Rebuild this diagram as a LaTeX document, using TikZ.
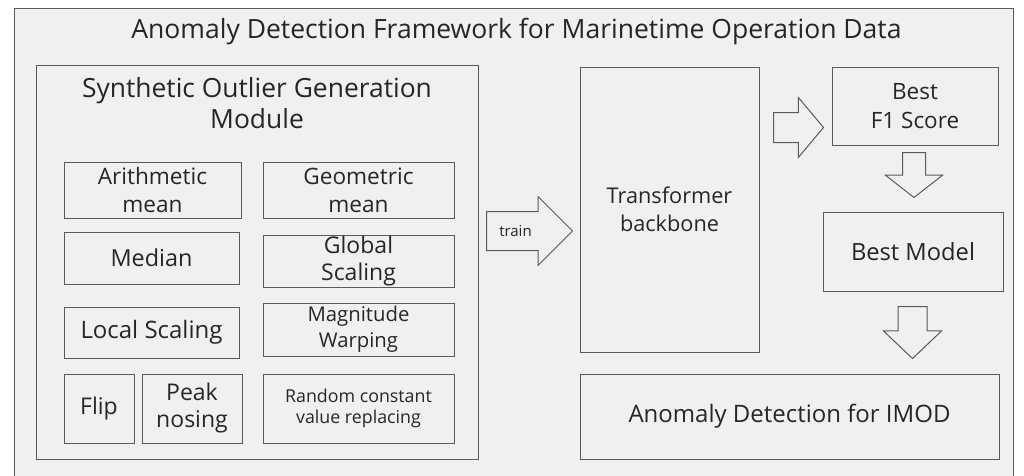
\documentclass[tikz,border=0pt]{standalone}
\usepackage{fontspec}
\setmainfont{Open Sans}
\usetikzlibrary{shapes.arrows}
\definecolor{framefill}{HTML}{F0F0F0}
\definecolor{linegray}{HTML}{5A5A5A}
\definecolor{textgray}{HTML}{262626}
\newcommand{\fsz}[2]{\fontsize{#1}{#2}\selectfont}
\tikzset{
	box/.style={draw=linegray, line width=1pt, inner sep=0pt, align=center, text=textgray},
	blockarrow/.style={single arrow, draw=linegray, line width=1pt, inner sep=0pt, anchor=tail},
}
\begin{document}
\begin{tikzpicture}[x=1pt,y=-1pt]
		\useasboundingbox (0,0) rectangle (1024,475);
		\fill[white] (0,0) rectangle (1024,475);
		\node[box, fill=framefill, minimum width=999, minimum height=482] (frame) at (513.5,249) {};
		\node[text=textgray, anchor=base, font=\fsz{26.5}{31}] (title) at (516.5,38) {Anomaly Detection Framework for Marinetime Operation Data};
		\begin{scope}
		\node[box, minimum width=442, minimum height=394] (module) at (257,262) {};
		\node[text=textgray, align=center, font=\fsz{26.4}{31}] (moduletitle) at (257,103) {Synthetic Outlier Generation\\Module};
		\node[box, font=\fsz{22.6}{28}, minimum width=177, minimum height=56] (arith) at (152.5,190) {Arithmetic\\mean};
		\node[box, font=\fsz{22.6}{28}, minimum width=191, minimum height=56] (geo) at (358.5,190) {Geometric\\mean};
		\node[box, font=\fsz{23.4}{28}, minimum width=175, minimum height=52] (median) at (151.5,258) {Median};
		\node[box, font=\fsz{23}{27}, minimum width=191, minimum height=52] (global) at (358.5,261) {Global\\Scaling};
		\node[box, font=\fsz{24}{28}, minimum width=175, minimum height=51] (local) at (151.5,332.5) {Local Scaling};
		\node[box, font=\fsz{20.3}{26}, minimum width=191, minimum height=53] (magnitude) at (358.5,329.5) {Magnitude\\Warping};
		\node[box, font=\fsz{23}{28}, minimum width=70, minimum height=69] (flip) at (99,408.5) {Flip};
		\node[box, font=\fsz{23}{27}, minimum width=100, minimum height=69] (peak) at (192,408.5) {Peak\\nosing};
		\node[box, font=\fsz{17.8}{21}, minimum width=191, minimum height=69] (random) at (358.5,408.5) {Random constant\\value replacing};
		\end{scope}
		\node[blockarrow, inner ysep=19pt, minimum height=86, single arrow head extend=15, single arrow tip angle=90] (trainarrow) at (486,231) {};
		\node[text=textgray, font=\fsz{15}{18}] (trainlabel) at ([xshift=29.5pt]trainarrow.tail) {train};
		\node[box, font=\fsz{21.7}{28}, minimum width=179, minimum height=285] (backbone) at (669.5,209.5) {Transformer\\backbone};
		\node[blockarrow, inner ysep=14.5pt, minimum height=50, single arrow head extend=15, single arrow tip angle=100] (f1arrow) at (773,127.5) {};
		\node[box, font=\fsz{22.5}{29}, minimum width=166, minimum height=78] (f1) at (915,106) {Best\\F1 Score};
		\node[blockarrow, shape border rotate=270, inner xsep=11pt, minimum height=45, single arrow head extend=17, single arrow tip angle=104] (down1) at (914,152) {};
		\node[box, font=\fsz{23.7}{28}, minimum width=180, minimum height=79] (model) at (913,251.5) {Best Model};
		\node[blockarrow, shape border rotate=270, inner xsep=14pt, minimum height=52, single arrow head extend=14.5, single arrow tip angle=93] (down2) at (912.5,306) {};
		\node[box, font=\fsz{24}{28}, minimum width=419, minimum height=85] (imod) at (789.5,416.5) {Anomaly Detection for IMOD};
\end{tikzpicture}
\end{document}
